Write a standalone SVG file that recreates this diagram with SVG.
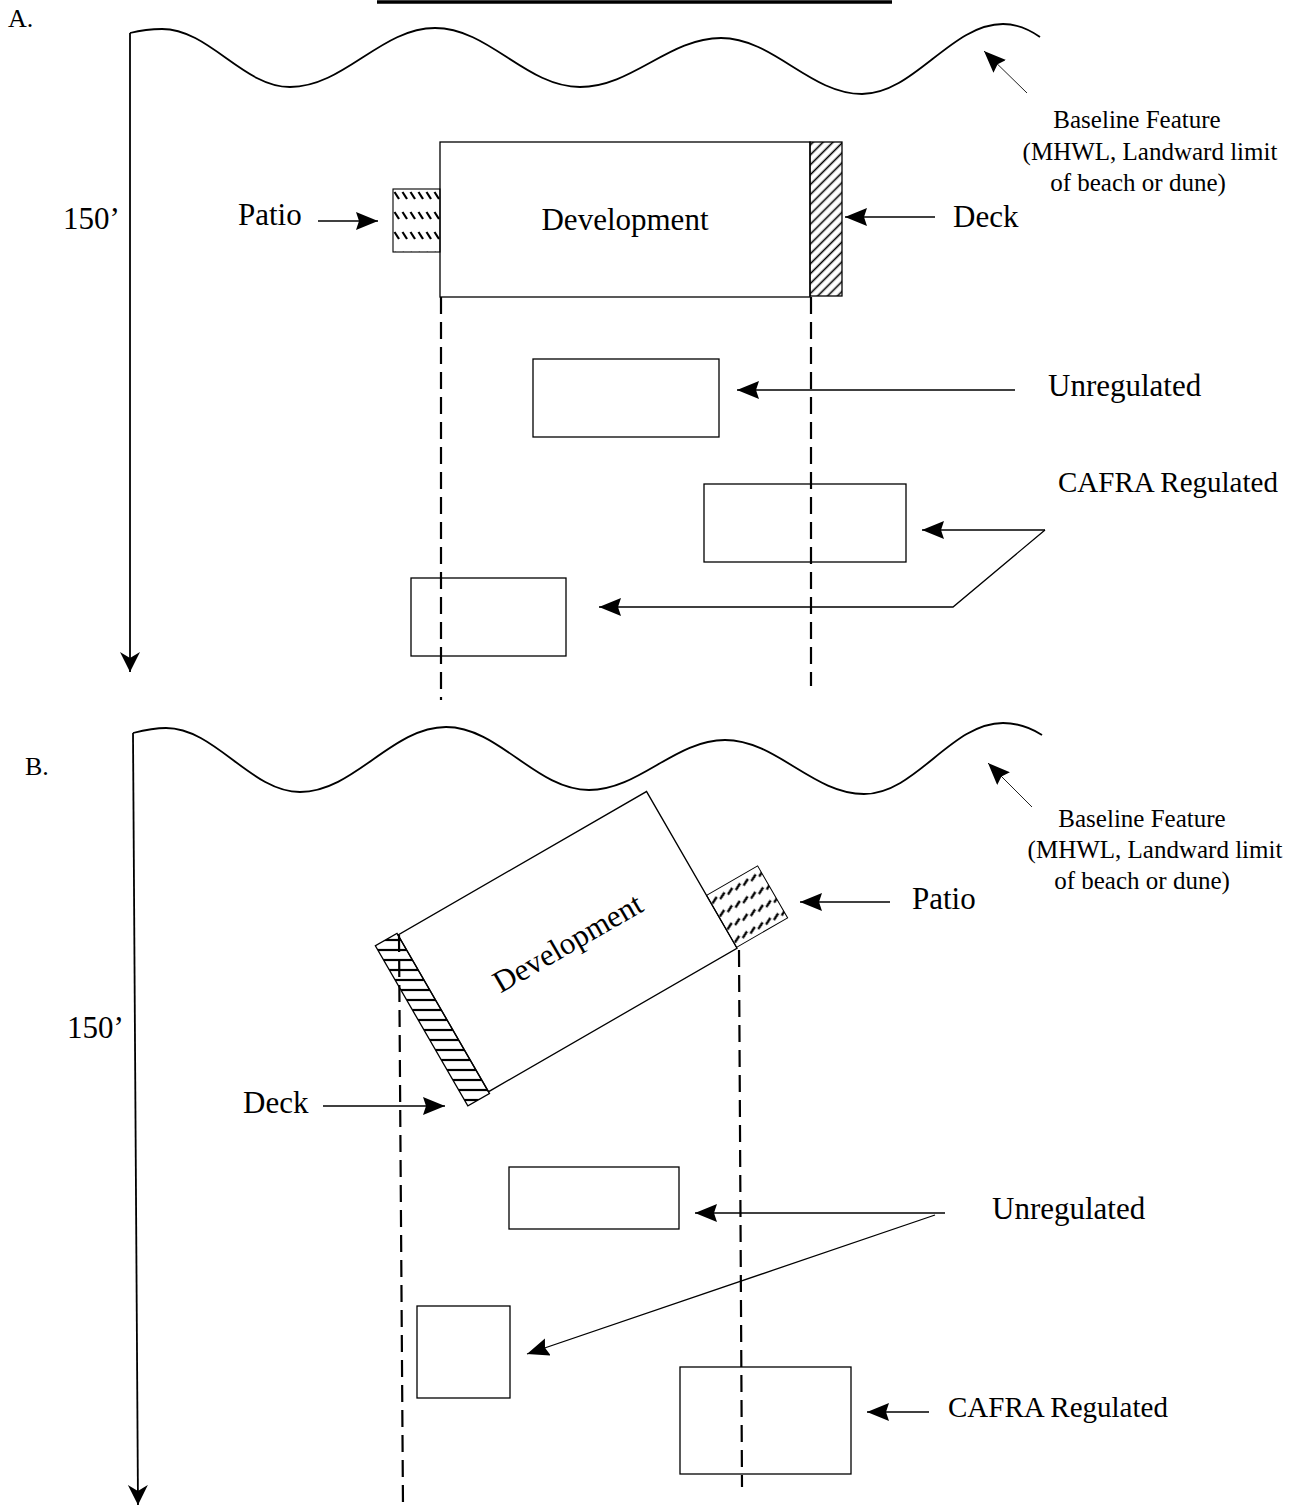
<svg xmlns="http://www.w3.org/2000/svg" width="1294" height="1507" viewBox="0 0 1294 1507">
<style>
.t{font-family:"Liberation Serif","Times New Roman",serif;fill:#000}
.lbl{font-size:31px}
.sm{font-size:25px}
.ln{stroke:#000;stroke-width:1.3;fill:none}
.wave{stroke:#000;stroke-width:1.8;fill:none}
.axis{stroke:#000;stroke-width:1.8;fill:none}
.dash{stroke:#000;stroke-width:2.2;fill:none;stroke-dasharray:17 8}
.box{stroke:#000;stroke-width:1.3;fill:#fff}
.thin{stroke:#222;stroke-width:1;fill:none}
</style>
<defs>
<marker id="ah" markerUnits="userSpaceOnUse" markerWidth="26" markerHeight="20" refX="22" refY="9" orient="auto">
<path d="M0,0 L22,9 L0,18 L3,9 z" fill="#000"/>
</marker>
<marker id="ahv" markerUnits="userSpaceOnUse" markerWidth="24" markerHeight="22" refX="20" refY="10" orient="auto">
<path d="M0,0 L20,10 L0,20 L6,10 z" fill="#000"/>
</marker>
<pattern id="slash" patternUnits="userSpaceOnUse" width="7" height="10" patternTransform="rotate(45)">
<line x1="3.5" y1="0" x2="3.5" y2="10" stroke="#000" stroke-width="1.6"/>
</pattern>
<pattern id="patioA" patternUnits="userSpaceOnUse" x="393" y="187" width="8" height="20">
<line x1="1.5" y1="5" x2="6" y2="12" stroke="#000" stroke-width="2.2"/>
</pattern>
<pattern id="horiz" patternUnits="userSpaceOnUse" width="10" height="10" patternTransform="rotate(30)">
<line x1="0" y1="5" x2="10" y2="5" stroke="#000" stroke-width="2.2"/>
</pattern>
<pattern id="patioB" patternUnits="userSpaceOnUse" x="287" y="120" width="9" height="15">
<line x1="1" y1="10" x2="8" y2="6.4" stroke="#000" stroke-width="2.4"/>
</pattern>
</defs>

<!-- title underline fragment -->
<line x1="377" y1="2" x2="892" y2="2" stroke="#000" stroke-width="3.5"/>

<!-- ============ PANEL A ============ -->
<g id="panelA-label"><text class="t" x="8" y="27" font-size="26">A.</text></g>
<g id="baselineA">
<path class="wave" d="M130,33 C142,30 152,29 162,29 C209,29 243,87 290,87 C344,87 381,28 435,28 C489,28 526,87 580,87 C632,87 669,38 721,38 C773,38 810,94 862,94 C914,94 951,24 1003,24 C1018,24 1030,30 1040,37"/>
</g>
<g id="axisA">
<line class="axis" x1="130" y1="33" x2="130" y2="672" marker-end="url(#ahv)"/>
<text class="t lbl" x="63" y="229">150’</text>
</g>
<g id="baselineA-label">
<text class="t sm" text-anchor="middle" x="1137" y="128">Baseline Feature</text>
<text class="t sm" text-anchor="middle" x="1150" y="160">(MHWL, Landward limit</text>
<text class="t sm" text-anchor="middle" x="1138" y="191">of beach or dune)</text>
</g>
<g id="developmentA">
<rect class="box" x="440" y="142" width="370" height="155"/>
<text class="t lbl" text-anchor="middle" x="625" y="230">Development</text>
</g>
<g id="patioA-node">
<rect x="393" y="189" width="47" height="63" fill="url(#patioA)" stroke="#000" stroke-width="1.1"/>
</g>
<g id="deckA-node">
<rect x="810" y="142" width="32" height="154" fill="url(#slash)" stroke="#000" stroke-width="1.3"/>
</g>
<g id="labelsA">
<text class="t lbl" x="238" y="225">Patio</text>
<text class="t lbl" x="953" y="227">Deck</text>
<text class="t lbl" x="1048" y="396">Unregulated</text>
<text class="t" font-size="29" x="1058" y="492">CAFRA Regulated</text>
</g>
<g id="unregA"><rect class="box" x="533" y="359" width="186" height="78"/></g>
<g id="cafraA1"><rect class="box" x="704" y="484" width="202" height="78"/></g>
<g id="cafraA2"><rect class="box" x="411" y="578" width="155" height="78"/></g>

<!-- ============ PANEL B ============ -->
<g id="panelB-label"><text class="t" x="25" y="775" font-size="26">B.</text></g>
<g id="baselineB">
<path class="wave" d="M133,733 C145,730 155,728 166,728 C215,728 251,792 300,792 C354,792 392,727 446,727 C499,727 536,790 589,790 C639,790 675,740 725,740 C776,740 813,794 864,794 C916,794 951,723 1003,723 C1018,723 1031,728 1042,735"/>
</g>
<g id="axisB">
<line class="axis" x1="133" y1="733" x2="138" y2="1505" marker-end="url(#ahv)"/>
<text class="t lbl" x="67" y="1038">150’</text>
</g>
<g id="baselineB-label">
<text class="t sm" text-anchor="middle" x="1142" y="827">Baseline Feature</text>
<text class="t sm" text-anchor="middle" x="1155" y="858">(MHWL, Landward limit</text>
<text class="t sm" text-anchor="middle" x="1142" y="889">of beach or dune)</text>
</g>
<g id="developmentB" transform="translate(398,935) rotate(-30)">
<rect class="box" x="0" y="0" width="287" height="181"/>
<text class="t lbl" text-anchor="middle" x="143" y="102">Development</text>
</g>
<g id="deckB-node" transform="translate(398,935) rotate(-30)">
<rect x="-25" y="-2" width="25" height="185" fill="url(#horiz)" stroke="#000" stroke-width="1.3"/>
</g>
<g id="patioB-node" transform="translate(398,935) rotate(-30)">
<rect x="287" y="120" width="59" height="60" fill="url(#patioB)" stroke="#000" stroke-width="1"/>
</g>
<g id="labelsB">
<text class="t lbl" x="912" y="909">Patio</text>
<text class="t lbl" x="243" y="1113">Deck</text>
<text class="t lbl" x="992" y="1219">Unregulated</text>
<text class="t" font-size="29" x="948" y="1417">CAFRA Regulated</text>
</g>
<g id="unregB1"><rect class="box" x="509" y="1167" width="170" height="62"/></g>
<g id="unregB2"><rect class="box" x="417" y="1306" width="93" height="92"/></g>
<g id="cafraB"><rect class="box" x="680" y="1367" width="171" height="107"/></g>

<!-- ============ CONNECTORS ============ -->
<g id="connectors">
<!-- A -->
<line class="thin" x1="1027" y1="93" x2="984" y2="51" marker-end="url(#ah)"/>
<line class="ln" x1="318" y1="221" x2="378" y2="221" marker-end="url(#ah)"/>
<line class="ln" x1="935" y1="217" x2="845" y2="217" marker-end="url(#ah)"/>
<line class="dash" x1="441" y1="297" x2="441" y2="700"/>
<line class="dash" x1="811" y1="297" x2="811" y2="686"/>
<line class="ln" x1="1015" y1="390" x2="737" y2="390" marker-end="url(#ah)"/>
<line class="ln" x1="1045" y1="530" x2="922" y2="530" marker-end="url(#ah)"/>
<polyline class="ln" points="1045,530 953,607 599,607" marker-end="url(#ah)"/>
<!-- B -->
<line class="thin" x1="1032" y1="807" x2="988" y2="763" marker-end="url(#ah)"/>
<line class="ln" x1="890" y1="902" x2="800" y2="902" marker-end="url(#ah)"/>
<line class="ln" x1="323" y1="1106" x2="445" y2="1106" marker-end="url(#ah)"/>
<line class="dash" x1="399" y1="935" x2="403" y2="1507"/>
<line class="dash" x1="739" y1="950" x2="742" y2="1487"/>
<line class="ln" x1="945" y1="1213" x2="695" y2="1213" marker-end="url(#ah)"/>
<line class="ln" x1="935" y1="1215" x2="527" y2="1354" marker-end="url(#ah)"/>
<line class="ln" x1="929" y1="1412" x2="867" y2="1412" marker-end="url(#ah)"/>
</g>
</svg>
